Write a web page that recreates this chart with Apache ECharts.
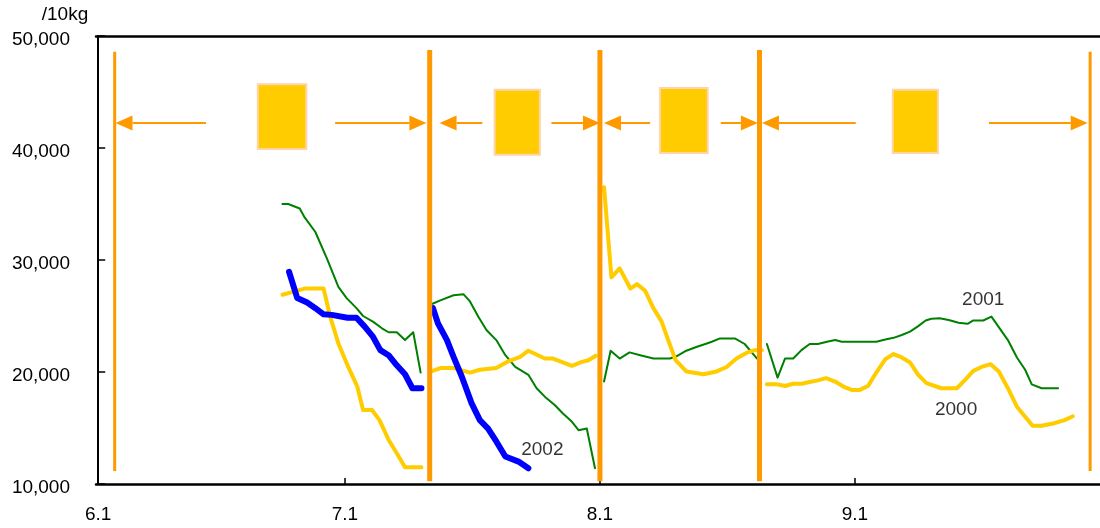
<!DOCTYPE html>
<html>
<head>
<meta charset="utf-8">
<script src="https://cdn.jsdelivr.net/npm/echarts@6/dist/echarts.min.js"></script>
<style>
  html, body { margin: 0; padding: 0; background: #fff; }
  #myChart { width: 1100px; height: 528px; }
</style>
</head>
<body>
<div id="myChart"></div>
<script>
// x values are days counted from June 1 (0 = 6.1)
const tickDays = [0, 30, 61, 92];
const tickLabels = ['6.1', '7.1', '8.1', '9.1'];

// price per 10kg, one array per run of the line
const price2000 = [
  [[22.4,26900],[23.7,27150],[25.1,27450],[27.4,27450],[28.2,24950],[29.2,22550],[30.4,20450],[31.5,18700],[32.2,16600],[33.3,16600],[34.2,15700],[35.3,13950],[36.3,12750],[37.3,11500],[39.3,11500]],
  [[40.5,20050],[41.6,20350],[43.2,20350],[45.2,19950],[46.4,20200],[48.4,20350],[49.7,20900],[51.3,21350],[52.3,21900],[54.3,21200],[55.3,21200],[57.6,20550],[58.8,20900],[59.6,21050],[60.5,21450]],
  [[61.5,36500],[62.4,28450],[63.4,29250],[64.7,27450],[65.5,27850],[66.5,27250],[67.5,25700],[68.5,24500],[69.3,22850],[70.2,21050],[71.5,20050],[73.6,19800],[75.2,20050],[76.4,20450],[77.6,21200],[78.8,21700],[79.8,21950],[80.7,21950]],
  [[81.3,18900],[82.5,18900],[83.5,18750],[84.5,18950],[85.5,18950],[86.5,19100],[87.5,19250],[88.5,19450],[89.6,19150],[90.6,18700],[91.6,18400],[92.6,18400],[93.6,18750],[94.6,19950],[95.7,21150],[96.7,21600],[97.7,21300],[98.7,20850],[99.7,19750],[100.7,19000],[102.5,18550],[104.4,18550],[105.4,19300],[106.4,20100],[107.4,20450],[108.5,20700],[109.5,20050],[110.6,18550],[111.7,16900],[112.7,16000],[113.6,15200],[114.7,15200],[116.1,15400],[117.5,15700],[118.5,16050]]
];
const price2001 = [
  [[22.4,35000],[23.1,35000],[24.5,34600],[25.1,33800],[26.4,32500],[27.8,30150],[29.2,27600],[30.2,26600],[31.4,25700],[32.2,25000],[33.4,24500],[34.5,23900],[35.3,23550],[36.3,23550],[37.3,22850],[38.3,23550],[39.2,19950]],
  [[40.5,26050],[41.6,26400],[43.2,26850],[44.4,26950],[45.2,26300],[46.2,24950],[47.2,23750],[48.4,22850],[49.5,21500],[50.7,20450],[52.3,19750],[53.3,18550],[54.3,17800],[55.5,17050],[56.5,16300],[57.6,15550],[58.4,14800],[59.4,14950],[60.4,11400]],
  [[61.5,19150],[62.3,21900],[63.4,21200],[64.6,21750],[65.9,21500],[67.5,21200],[69.5,21200],[70.3,21400],[71.5,21900],[72.8,22250],[74.0,22550],[74.6,22700],[75.6,23000],[77.4,23000],[78.6,22500],[80.1,21200]],
  [[81.3,22500],[82.6,19500],[83.5,21200],[84.5,21200],[85.5,21950],[86.5,22500],[87.5,22500],[88.6,22700],[89.6,22850],[90.4,22700],[94.6,22700],[95.7,22900],[96.7,23050],[97.7,23300],[98.7,23600],[99.7,24100],[100.6,24600],[101.3,24750],[102.3,24800],[103.4,24650],[104.6,24400],[105.7,24300],[106.4,24600],[107.6,24600],[108.6,24950],[109.6,23900],[110.6,22850],[111.7,21300],[112.7,20200],[113.5,18900],[114.7,18550],[116.7,18550]]
];
const price2002 = [
  [[23.2,28950],[24.2,26600],[25.4,26200],[26.4,25700],[27.4,25150],[28.4,25100],[30.3,24850],[31.4,24850],[32.4,24050],[33.4,23150],[34.3,21950],[35.3,21500],[36.3,20600],[37.3,19800],[38.2,18550],[39.3,18550]],
  [[40.7,25700],[41.3,24350],[42.4,22850],[43.2,21350],[44.2,19600],[45.4,17200],[46.4,15700],[47.4,14950],[48.4,13800],[49.5,12450],[51.1,12000],[52.3,11400]]
];

// year labels next to the lines: [text, day, value]
const yearLabels = [['2002', 54.0, 13050], ['2001', 107.6, 26430], ['2000', 104.3, 16600]];

// period markers: [day, top value, bottom value]
const periodBounds = [[2.0, 48600, 11150], [40.3, 48750, 10250], [61.0, 48750, 10250], [80.4, 48750, 10250], [120.6, 48600, 11150]];
// arrows: [tip day, tail day]
const periodArrows = [[2.1, 13.1], [39.9, 28.8], [41.5, 46.7], [61.0, 55.1], [61.5, 67.1], [80.2, 75.7], [80.7, 92.1], [120.3, 108.3]];
const arrowLevel = 42230;
// boxes: [day1, value1, day2, value2]
const periodBoxes = [[19.4, 45700, 25.3, 39900], [48.2, 45200, 53.7, 39400], [68.3, 45350, 74.1, 39550], [96.6, 45200, 102.1, 39550]];

const orange = '#FF9900';
const font = 'Liberation Sans, Arial, sans-serif';

function lineSeries(segments, color, width) {
  return segments.map(seg => ({
    type: 'line',
    data: seg,
    showSymbol: false,
    symbol: 'none',
    lineStyle: { color: color, width: width, join: 'round', cap: 'round' },
    z: 3
  }));
}

const series = [].concat(
  lineSeries(price2001, '#008000', 2),
  lineSeries(price2000, '#FFCC00', 4),
  lineSeries(price2002, '#0000FF', 6)
);

series.push({
  type: 'custom',
  data: periodBounds,
  z: 4,
  renderItem: (params, api) => {
    const top = api.coord([api.value(0), api.value(1)]);
    const bot = api.coord([api.value(0), api.value(2)]);
    const edge = params.dataIndex === 0 || params.dataIndex === periodBounds.length - 1;
    return {
      type: 'line',
      shape: { x1: top[0], y1: top[1], x2: bot[0], y2: bot[1] },
      style: { stroke: orange, lineWidth: edge ? 3 : 5 }
    };
  }
});

series.push({
  type: 'custom',
  data: periodArrows,
  z: 4,
  renderItem: (params, api) => {
    const tip = api.coord([api.value(0), arrowLevel]);
    const tail = api.coord([api.value(1), arrowLevel]);
    const dir = tail[0] > tip[0] ? 1 : -1;
    const base = tip[0] + dir * 17;
    return {
      type: 'group',
      children: [
        { type: 'line', shape: { x1: base, y1: tip[1], x2: tail[0], y2: tail[1] }, style: { stroke: orange, lineWidth: 2 } },
        { type: 'polygon', shape: { points: [[tip[0], tip[1]], [base, tip[1] - 7.5], [base, tip[1] + 7.5]] }, style: { fill: orange } }
      ]
    };
  }
});

series.push({
  type: 'custom',
  data: periodBoxes,
  z: 4,
  renderItem: (params, api) => {
    const p1 = api.coord([api.value(0), api.value(1)]);
    const p2 = api.coord([api.value(2), api.value(3)]);
    return {
      type: 'rect',
      shape: { x: p1[0], y: p1[1], width: p2[0] - p1[0], height: p2[1] - p1[1] },
      style: { fill: '#FFCC00', stroke: '#FFD4AA', lineWidth: 2 }
    };
  }
});

series.push({
  type: 'scatter',
  data: yearLabels.map(l => ({ value: [l[1], l[2]], name: l[0] })),
  symbolSize: 0,
  z: 5,
  label: {
    show: true,
    position: 'inside',
    formatter: p => p.name,
    color: '#000',
    fontSize: 19,
    fontFamily: font
  }
});

const ECharts = echarts.init(document.getElementById('myChart'));
ECharts.setOption({
  animation: false,
  backgroundColor: '#fff',
  grid: { left: 96, right: 0, top: 36, bottom: 44 },
  xAxis: [{
    type: 'value',
    min: -0.27,
    max: 121.8,
    axisLine: { lineStyle: { color: '#000', width: 2.5 } },
    axisTick: { show: true, inside: true, length: 6, customValues: tickDays.slice(1), lineStyle: { color: '#000', width: 1.5 } },
    axisLabel: {
      customValues: tickDays,
      formatter: v => tickLabels[tickDays.indexOf(v)] || '',
      margin: 21,
      color: '#000',
      fontSize: 19,
      fontFamily: font
    },
    splitLine: { show: false }
  }, {
    type: 'value',
    position: 'top',
    min: -0.27,
    max: 121.8,
    axisLine: { show: true, lineStyle: { color: '#000', width: 2.5 } },
    axisTick: { show: false },
    axisLabel: { show: false },
    splitLine: { show: false }
  }],
  yAxis: {
    type: 'value',
    min: 10000,
    max: 50000,
    interval: 10000,
    name: '/10kg',
    nameLocation: 'end',
    nameGap: 12,
    nameTextStyle: { color: '#000', fontSize: 19, fontFamily: font, align: 'right', padding: [0, 10, 0, 0] },
    axisLine: { show: true, lineStyle: { color: '#000', width: 2 } },
    axisTick: { show: true, inside: true, length: 7, lineStyle: { color: '#000', width: 1.5 } },
    axisLabel: {
      formatter: v => v.toLocaleString('en-US'),
      margin: 26,
      verticalAlign: 'top',
      lineHeight: 8,
      color: '#000',
      fontSize: 19,
      fontFamily: font
    },
    splitLine: { show: false }
  },
  series: series
});
</script>
</body>
</html>
